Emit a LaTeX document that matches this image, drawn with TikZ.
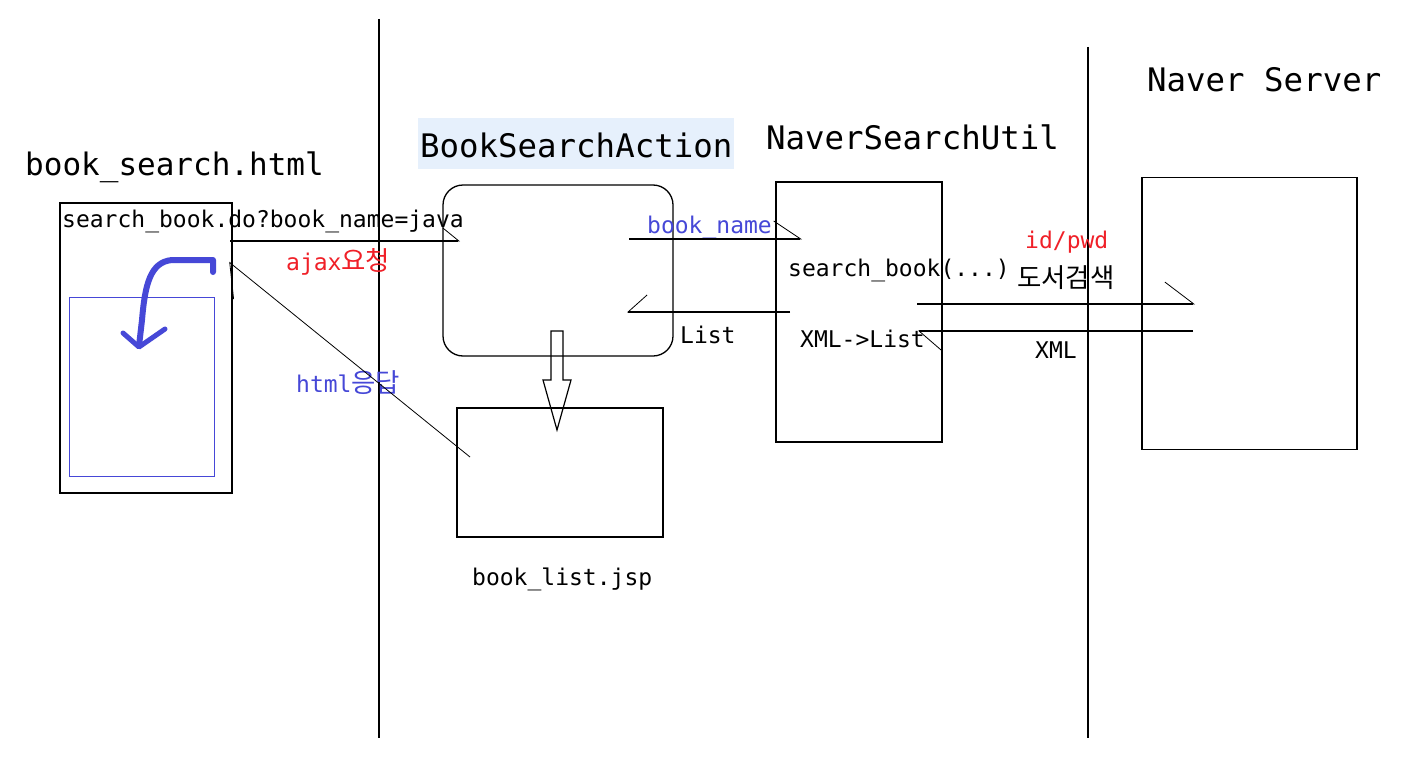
\documentclass[tikz,border=0pt]{standalone}
\usepackage{fontspec}
\setmainfont{DejaVu Sans Mono}
\newfontfamily\kr[Scale=1.15]{Noto Sans CJK KR}
\usetikzlibrary{arrows.meta}
\definecolor{hblue}{RGB}{70,72,215}
\definecolor{hred}{RGB}{240,32,40}
\definecolor{hsky}{RGB}{230,240,252}
\tikzset{
  box/.style={draw, line width=1.3pt, inner sep=0pt},
  txt/.style={anchor=base west, inner sep=0pt, font=\fontsize{23}{26}\selectfont},
  big/.style={anchor=base west, inner sep=0pt, font=\fontsize{32.4}{36}\selectfont},
  link/.style={line width=1.3pt},
  barbL/.style 2 args={-{Straight Barb[left,length=#1,width=#2,line width=0.8pt]}},
  barbR/.style 2 args={-{Straight Barb[right,length=#1,width=#2,line width=0.8pt]}},
}
\begin{document}
\begin{tikzpicture}[x=1pt,y=-1pt]
\useasboundingbox[fill=white] (0,0) rectangle (1421,768);
\draw[line width=1.3pt] (379,19) -- (379,738);
\draw[line width=1.3pt] (1088,47) -- (1088,738);
% boxes
\node[box, minimum width=172pt, minimum height=290pt] (page) at (146,348) {};
\node[box, draw=hblue, line width=1pt, minimum width=145pt, minimum height=179pt] (view) at (141.5,386.5) {};
\node[box, rounded corners=20pt, minimum width=230pt, minimum height=171pt] (action) at (558,270.5) {};
\node[box, minimum width=206pt, minimum height=129pt] (listjsp) at (560,472.5) {};
\node[box, minimum width=166pt, minimum height=260pt] (util) at (859,312) {};
\node[box, minimum width=215pt, minimum height=272pt] (naver) at (1249.5,313.5) {};
% titles
\node[big, font=\fontsize{31}{34}\selectfont] (pagetitle) at (25,175) {book\_search.html};
\node[big, fill=hsky, inner xsep=2pt, text height=37pt, text depth=10pt, inner ysep=2pt] (actiontitle) at (418,157) {BookSearchAction};
\node[big] (utiltitle) at (766,149) {NaverSearchUtil};
\node[big] (navertitle) at (1147,91) {Naver Server};
\node[txt] (listtitle) at (472,585) {book\_list.jsp};
% labels
\node[txt] (url) at (62,227) {search\_book.do?book\_name=java};
\node[txt, text=hred] (ajaxlbl) at (286,270) {ajax{\kr 요청}};
\node[txt, text=hblue] (htmllbl) at (296,392) {html{\kr 응답}};
\node[txt, text=hblue] (namelbl) at (647,233) {book\_name};
\node[txt] (method) at (788,276) {search\_book(...)};
\node[txt] (listlbl) at (680,343) {List};
\node[txt] (convlbl) at (800,347) {XML->List};
\node[txt, text=hred] (idlbl) at (1025,248) {id/pwd};
\node[txt] (querylbl) at (1017,287) {{\kr 도서검색}};
\node[txt] (xmllbl) at (1035,358) {XML};
% connectors
\coordinate (ajaxfrom) at (230,241);
\coordinate (ajaxto) at (460,241);
\coordinate (respfrom) at (470,457);
\coordinate (respto) at (229,262);
\coordinate (namefrom) at (629,239);
\coordinate (nameto) at (802,239);
\coordinate (retfrom) at (790,312);
\coordinate (retto) at (627,312);
\coordinate (reqfrom) at (917,304);
\coordinate (reqto) at (1195,304);
\coordinate (xmlfrom) at (1193,331);
\coordinate (xmlto) at (918,331);
\draw[link, barbL={16}{26}] (ajaxfrom) -- (ajaxto);
\draw[line width=0.8pt, barbL={26}{52}] (respfrom) -- (respto);
\draw[link, barbL={27}{36}] (namefrom) -- (nameto);
\draw[link, barbR={19}{34}] (retfrom) -- (retto);
\draw[link, barbL={29}{44}] (reqfrom) -- (reqto);
\draw[link, barbL={22}{38}] (xmlfrom) -- (xmlto);
% forward arrow
\draw[line width=1.2pt] (551,331) -- (563,331) -- (563,380) -- (571,380) -- (557,430) -- (543,380) -- (551,380) -- cycle;
% redraw arrow in page
\draw[hblue, line width=6pt, line join=round, line cap=round] (213,272) -- (213,260) -- (172,260) .. controls (150,262) and (145,285) .. (142,320) -- (139,346);
\draw[hblue, line width=5pt, line join=round, line cap=round] (123,333) -- (139,347) -- (165,329);
\end{tikzpicture}
\end{document}
